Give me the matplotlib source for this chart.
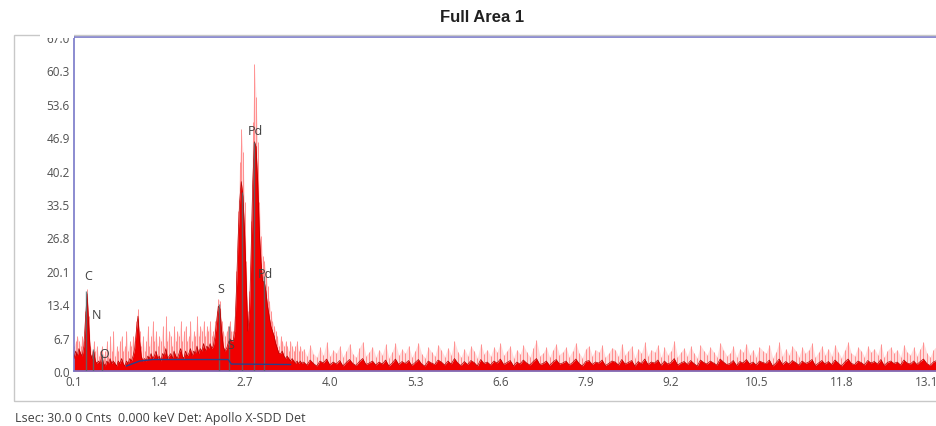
import numpy as np
import matplotlib
matplotlib.use("Agg")
import matplotlib.pyplot as plt
from matplotlib.patches import Rectangle

# EDS spectrum, counts
# low energy part: 0.1 keV upward in 0.025 keV steps
low_counts = [
    2.5, 4.0, 3.0, 4.5, 3.5, 3.0, 5.0, 10.5, 15.5, 9.0,
    3.5, 2.5, 4.0, 2.0, 1.5, 2.0, 1.5, 3.0, 1.5, 1.0,
    2.0, 1.5, 2.5, 1.5, 2.0, 1.5, 1.0, 2.0, 1.5, 2.5,
    1.5, 1.0, 2.0, 1.5, 2.5, 2.0, 3.0, 4.5, 8.0, 11.0,
    6.0, 3.0, 2.0, 2.5, 2.0, 3.0, 2.5, 3.5, 2.5, 3.0,
    4.0, 2.5, 3.0, 2.0, 3.5, 3.0, 4.5, 2.5, 3.0, 3.5,
    2.5, 4.0, 3.0, 2.5, 3.5, 4.5, 3.0, 2.5, 4.0, 3.0,
    3.5, 4.5, 3.0, 4.0, 3.5, 5.0, 3.5, 4.5, 4.0, 5.5,
    4.0, 5.0, 4.5, 5.5, 4.5, 5.0, 7.0, 10.0, 13.0, 12.5,
    8.0, 5.0, 4.0, 4.5, 5.5, 6.5, 6.0, 6.0, 8.0, 16.0,
    26.0, 34.0, 38.0, 35.0, 28.0, 18.0, 8.0, 12.0, 24.0, 38.0,
    46.0, 45.0, 38.0, 28.0, 22.0, 18.0, 18.0, 16.0, 13.0, 11.0,
    9.0, 8.0, 7.0, 5.5, 4.5, 3.5, 3.5, 4.0, 3.0, 2.5,
    3.0, 2.5, 2.0, 2.5, 2.0, 1.5, 2.0, 1.5, 2.0, 1.5,
]
low_peak_hold = [
    5, 6, 7, 6, 5, 7, 6, 12, 16.5, 11,
    5, 4, 6, 4, 5, 3, 4, 5, 3, 4,
    6, 3, 7, 4, 8, 3, 5, 4, 6, 7,
    4, 5, 8, 4, 6, 5, 7, 6, 10, 12.5,
    8, 5, 7, 4, 6, 9, 5, 7, 10, 6,
    8, 5, 7, 6, 9, 5, 11, 6, 8, 7,
    5, 9, 6, 8, 7, 10, 6, 8, 9, 6,
    7, 10, 6, 8, 7, 11, 7, 9, 8, 10,
    7, 9, 8, 10, 7, 8, 10, 12, 14.5, 14,
    10, 8, 7, 8, 9, 10, 8, 8, 11, 20,
    32, 42, 48.5, 44, 34, 22, 12, 16, 30, 50,
    61.5, 55, 46, 34, 27, 23, 22, 20, 17, 14,
    12, 10, 9, 8, 7, 5, 7, 6, 5, 6,
    5, 4, 6, 5, 4, 5, 6, 4, 5, 4,
]
# high energy part: 3.6 keV upward in 0.05 keV steps
high_counts = [
    1.8, 1.2, 2.2, 1.5, 1.0, 2.0, 1.6, 2.4, 1.2, 1.8, 1.4, 2.1, 1.0, 1.7, 2.3,
    1.5, 1.1, 1.9, 2.5, 1.3, 1.6, 2.0, 1.2, 1.8, 1.4, 2.2, 1.0, 1.6, 2.4, 1.3,
    1.9, 1.5, 2.1, 1.1, 1.7, 2.3, 1.4, 1.0, 2.0, 1.6, 1.3, 2.2, 1.8, 1.2, 2.0,
    1.4, 2.5, 1.6, 1.1, 1.9, 1.3, 2.1, 1.7, 1.0, 2.3, 1.5, 1.8, 1.2, 2.0, 1.6,
    2.4, 1.3, 1.7, 2.1, 1.0, 1.8, 1.4, 2.2, 1.6, 1.2, 1.9, 2.5, 1.3, 1.5, 2.0,
    1.1, 1.8, 2.3, 1.4, 1.6, 2.0, 1.2, 1.7, 2.4, 1.5, 1.0, 1.9, 2.1, 1.3, 1.8,
    1.6, 2.2, 1.1, 1.5, 2.0, 1.8, 1.2, 2.3, 1.4, 1.7, 2.1, 1.0, 1.9, 1.5, 2.4,
    1.3, 1.8, 1.6, 2.2, 1.1, 2.0, 1.4, 1.7, 2.5, 1.2, 1.6, 1.9, 1.3, 2.1, 1.5,
    1.0, 2.2, 1.7, 1.4, 2.0, 1.6, 1.2, 2.4, 1.8, 1.3, 1.5, 2.1, 1.1, 1.9, 1.6,
    2.3, 1.4, 1.8, 1.2, 2.0, 1.7, 1.5, 2.2, 1.0, 1.6, 2.4, 1.3, 1.9, 1.4, 2.1,
    1.7, 1.2, 2.0, 1.5, 1.8, 2.3, 1.1, 1.6, 2.1, 1.4, 1.9, 1.3, 2.2, 1.6, 1.0,
    1.8, 2.4, 1.5, 1.3, 2.0, 1.7, 1.2, 2.1, 1.6, 1.9, 1.4, 2.3, 1.1, 1.7, 2.0,
    1.5, 1.8, 1.2, 2.2, 1.6, 1.4, 2.0, 1.3, 1.9, 2.4, 1.5, 1.1, 1.8, 2.1, 1.6,
]
high_peak_hold = [
    4.5, 3.0, 5.2, 3.5, 2.8, 4.8, 3.2, 5.8, 3.0, 4.2, 3.6, 5.0, 2.9, 4.0, 5.5,
    3.4, 2.8, 4.6, 5.9, 3.1, 3.8, 4.9, 2.9, 4.3, 3.3, 5.4, 2.7, 3.9, 5.6, 3.2,
    4.4, 3.6, 5.1, 2.8, 4.1, 5.7, 3.4, 2.7, 4.8, 3.8, 3.0, 5.3, 4.2, 2.9, 4.7,
    3.3, 6.0, 3.9, 2.8, 4.5, 3.1, 5.0, 4.0, 2.7, 5.5, 3.5, 4.3, 3.0, 4.8, 3.8,
    5.6, 3.2, 4.1, 5.0, 2.7, 4.3, 3.4, 5.2, 3.8, 2.9, 4.6, 6.2, 3.1, 3.6, 4.8,
    2.8, 4.3, 5.4, 3.3, 3.9, 4.8, 2.9, 4.1, 5.7, 3.6, 2.7, 4.5, 5.0, 3.1, 4.3,
    3.8, 5.2, 2.8, 3.6, 4.7, 4.3, 3.0, 5.5, 3.3, 4.1, 5.0, 2.7, 4.5, 3.6, 5.8,
    3.1, 4.3, 3.8, 5.2, 2.8, 4.8, 3.3, 4.1, 6.1, 2.9, 3.8, 4.6, 3.1, 5.0, 3.6,
    2.7, 5.2, 4.1, 3.3, 4.8, 3.8, 2.9, 5.7, 4.3, 3.1, 3.6, 5.0, 2.8, 4.5, 3.8,
    5.5, 3.3, 4.3, 2.9, 4.8, 4.1, 3.6, 5.3, 2.7, 3.8, 5.8, 3.1, 4.5, 3.3, 5.0,
    4.1, 2.9, 4.8, 3.6, 4.3, 5.6, 2.8, 3.8, 5.0, 3.3, 4.5, 3.1, 5.3, 3.8, 2.7,
    4.3, 5.8, 3.6, 3.1, 4.8, 4.1, 2.9, 5.0, 3.8, 4.5, 3.3, 5.5, 2.8, 4.1, 4.8,
    3.6, 4.3, 2.9, 5.3, 3.8, 3.3, 4.8, 3.1, 4.5, 5.8, 3.6, 2.8, 4.3, 5.0, 3.8,
]

# background fit line
bg_kev = [0.9, 1.1, 1.3, 2.45, 2.5, 3.4]
bg_cnts = [1.0, 2.0, 2.3, 2.3, 1.4, 1.3]

# element marker lines and labels
marker_kev = [0.28, 0.39, 0.52, 2.31, 2.47, 2.66, 2.85, 3.0]
marker_cnts = [16.0, 4.5, 3.5, 13.5, 9.0, 36.0, 46.0, 19.0]
label_text = ["C", "N", "O", "S", "S", "Pd", "Pd"]
label_kev = [0.32, 0.44, 0.56, 2.34, 2.49, 2.87, 3.02]
label_cnts = [19.2, 11.3, 3.6, 16.5, 5.4, 48.2, 19.6]

xticks = [0.1, 1.4, 2.7, 4.0, 5.3, 6.6, 7.9, 9.2, 10.5, 11.8, 13.1]
yticks = [0.0, 6.7, 13.4, 20.1, 26.8, 33.5, 40.2, 46.9, 53.6, 60.3, 67.0]

e_low = 0.1 + 0.025 * np.arange(len(low_counts))
e_high = 3.6 + 0.05 * np.arange(len(high_counts))
energy = np.concatenate([e_low, e_high])
counts = np.concatenate([low_counts, high_counts])
peak_hold = np.concatenate([low_peak_hold, high_peak_hold])

fig = plt.figure(figsize=(9.37, 4.27), dpi=100)
ax = fig.add_axes([74 / 937, 55 / 427, 1 - 74 / 937, 334 / 427])

# outer grey frame
fig.patches.append(Rectangle((14 / 937, 25 / 427), 1.0, 366 / 427, transform=fig.transFigure,
                             fill=False, edgecolor="#c8c8c8", lw=1.0, zorder=0))

# peak-hold haze, then the spikes, then the dense spectrum
ax.fill_between(energy, 0, peak_hold, color="#ffc4c4", lw=0, alpha=0.6, zorder=1)
ax.vlines(energy, 0, peak_hold, color="#ff7a7a", lw=0.7, alpha=0.8, zorder=1)
ax.fill_between(energy, 0, counts, color="#f00000", lw=0, zorder=2)
ax.plot(energy, counts, color="#b40000", lw=0.5, zorder=3)
ax.vlines(marker_kev, 0, marker_cnts, color="#4f6f74", lw=1.0, alpha=0.8, zorder=4)
ax.plot(bg_kev, bg_cnts, color="#28408c", lw=1.0, zorder=4)

for t, x, y in zip(label_text, label_kev, label_cnts):
    ax.text(x, y, t, fontsize=9, color="#404040", family="Open Sans", ha="center", va="center", zorder=5)

ax.set_xlim(0.1, 13.256)
ax.set_ylim(0, 67.0)
ax.set_xticks(xticks)
ax.set_xticklabels(["%.1f" % v for v in xticks])
ax.set_yticks(yticks)
ax.set_yticklabels(["%.1f" % v for v in yticks])
ax.tick_params(length=0, labelsize=8.5, labelcolor="#505050", pad=3)
for lab in ax.get_xticklabels() + ax.get_yticklabels():
    lab.set_family("Open Sans")
for s in ["left", "top", "bottom"]:
    ax.spines[s].set_color("#7878c8")
    ax.spines[s].set_linewidth(1.2)
ax.spines["right"].set_visible(False)

# top of the 67.0 label is hidden behind the frame in the original
fig.patches.append(Rectangle((40 / 937, 388 / 427), 34 / 937, 39 / 427, transform=fig.transFigure,
                             facecolor="white", edgecolor="none", zorder=10))

fig.text(482 / 937, 1 - 18 / 427, "Full Area 1", fontsize=12, fontweight="bold",
         family="Liberation Sans", color="#202020", ha="center", va="center")
fig.text(15 / 937, 1 - 419 / 427, "Lsec: 30.0 0 Cnts  0.000 keV Det: Apollo X-SDD Det",
         fontsize=9, family="Open Sans", color="#404040", ha="left", va="center")

fig.savefig("out.png", dpi=100)
